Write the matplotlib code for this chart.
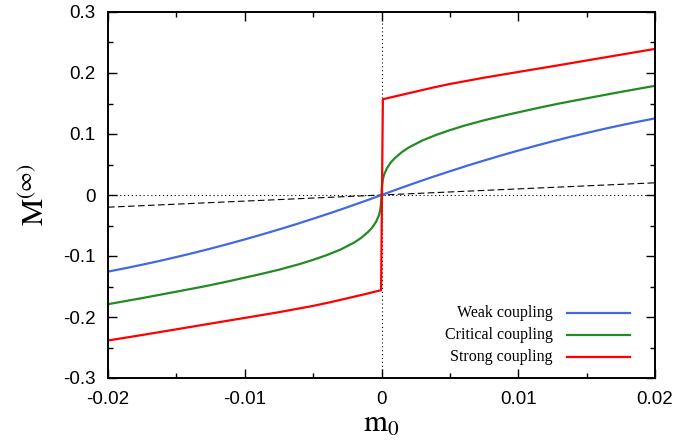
import numpy as np
import matplotlib
matplotlib.use("Agg")
import matplotlib.pyplot as plt
from matplotlib.ticker import MultipleLocator, FuncFormatter

plt.rcParams['font.family'] = ['Liberation Sans', 'DejaVu Sans']
plt.rcParams['mathtext.fontset'] = 'stix'

# values
m0_weak = [-0.02, -0.01875, -0.0175, -0.01625, -0.015, -0.01375, -0.0125, -0.01125,
           -0.01, -0.00875, -0.0075, -0.00625, -0.005, -0.00375, -0.0025, -0.00125, 0.0,
           0.00125, 0.0025, 0.00375, 0.005, 0.00625, 0.0075, 0.00875, 0.01,
           0.01125, 0.0125, 0.01375, 0.015, 0.01625, 0.0175, 0.01875, 0.02]
M_weak = [-0.1256, -0.1201, -0.1143, -0.1082, -0.1017, -0.0950, -0.0879, -0.0805,
          -0.0728, -0.0648, -0.0565, -0.0479, -0.0389, -0.0297, -0.0201, -0.0102, 0.0,
          0.0102, 0.0201, 0.0297, 0.0389, 0.0479, 0.0565, 0.0648, 0.0728,
          0.0805, 0.0879, 0.0950, 0.1017, 0.1082, 0.1143, 0.1201, 0.1256]

m0_crit = [-0.02, -0.0175, -0.015, -0.013, -0.0115, -0.01, -0.009, -0.0075, -0.006,
           -0.005, -0.004, -0.003, -0.002, -0.0015, -0.001, -0.0007, -0.0004, -0.0002,
           -0.0001, -0.00005, -0.00002, 0.0, 0.00002, 0.00005, 0.0001, 0.0002, 0.0004,
           0.0007, 0.001, 0.0015, 0.002, 0.003, 0.004, 0.005, 0.006, 0.0075, 0.009,
           0.01, 0.0115, 0.013, 0.015, 0.0175, 0.02]
M_crit = [-0.179, -0.169, -0.1585, -0.150, -0.143, -0.1355, -0.1305, -0.1225, -0.1133,
          -0.1063, -0.0985, -0.0895, -0.078, -0.0705, -0.061, -0.054, -0.044, -0.034,
          -0.026, -0.017, -0.010, 0.0, 0.010, 0.017, 0.026, 0.034, 0.044,
          0.054, 0.061, 0.0705, 0.078, 0.0895, 0.0985, 0.1063, 0.1133, 0.1225, 0.1305,
          0.1355, 0.143, 0.150, 0.1585, 0.169, 0.179]

m0_strong = [-0.02, -0.0175, -0.015, -0.0125, -0.01, -0.0075, -0.005, -0.00375, -0.0025,
             -0.00125, -0.00003, 0.0001, 0.00125, 0.0025, 0.00375, 0.005, 0.0075, 0.01,
             0.0125, 0.015, 0.0175, 0.02]
M_strong = [-0.2385, -0.2295, -0.2202, -0.2108, -0.2015, -0.1921, -0.1818, -0.1758, -0.1693,
            -0.1628, -0.1560, 0.157, 0.163, 0.1695, 0.176, 0.182, 0.1923, 0.2017,
            0.211, 0.2205, 0.230, 0.2395]

m0_ref = [-0.02, 0.02]
M_ref = [-0.02, 0.02]

labels = ["Weak coupling", "Critical coupling", "Strong coupling"]
colors = ["#4169e1", "#228b22", "#ff0000"]

fig = plt.figure(figsize=(6.82, 4.45), dpi=100)
ax = fig.add_axes([108 / 682, 67 / 445, 547 / 682, 366 / 445])

ax.axhline(0, color='black', lw=0.8, ls=(0, (1, 2.5)))
ax.axvline(0, color='black', lw=0.8, ls=(0, (1, 2.5)))
ax.plot(m0_ref, M_ref, color='black', lw=0.8, ls=(0, (6, 3)))

series = [(m0_weak, M_weak), (m0_crit, M_crit), (m0_strong, M_strong)]
for (xs, ys), c in zip(series, colors):
    ax.plot(xs, ys, color=c, lw=1.6)

ax.set_xlim(-0.02, 0.02)
ax.set_ylim(-0.3, 0.3)
ax.xaxis.set_major_locator(MultipleLocator(0.01))
ax.xaxis.set_minor_locator(MultipleLocator(0.005))
ax.yaxis.set_major_locator(MultipleLocator(0.1))
ax.yaxis.set_minor_locator(MultipleLocator(0.05))


def fmt(v, pos):
    s = "%g" % round(v, 6)
    return "0" if s in ("-0", "0") else s


ax.xaxis.set_major_formatter(FuncFormatter(fmt))
ax.yaxis.set_major_formatter(FuncFormatter(fmt))
ax.tick_params(which='both', direction='in', top=True, right=True, width=1.0,
               labelsize=13.5)
ax.tick_params(which='major', length=6.5, pad=9)
ax.tick_params(which='minor', length=3.5)
for s in ax.spines.values():
    s.set_linewidth(1.4)

ax.set_xlabel(r'$\mathrm{m}_0$', fontsize=22)
ax.set_ylabel(r'$\mathrm{M}^{(\infty)}$', fontsize=22)
ax.xaxis.set_label_coords(0.5, -0.085)
ax.xaxis.label.set_va('top')
ax.yaxis.set_label_coords(-0.105, 0.5)

# key in the lower right corner
rows = [0.1776, 0.118, 0.0574]
for lab, c, yy in zip(labels, colors, rows):
    ax.text(0.8135, yy, lab, transform=ax.transAxes, ha='right', va='center',
            fontsize=11.5, family='Liberation Serif')
    ax.plot([0.839, 0.954], [yy, yy], transform=ax.transAxes, color=c, lw=1.6)

fig.savefig("out.png", dpi=100)
